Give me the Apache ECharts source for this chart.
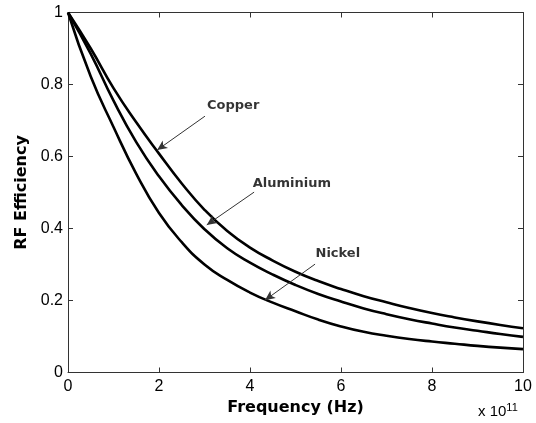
<!DOCTYPE html>
<html><head><meta charset="utf-8">
<script src="https://cdn.jsdelivr.net/npm/echarts@6/dist/echarts.min.js"></script>
<style>html,body{margin:0;padding:0;background:#fff}#c{width:536px;height:423px}</style>
</head><body><div id="c"></div>
<script>
var freq = [0,0.5,1,1.5,2,2.5,3,3.5,4,4.5,5,5.5,6,6.5,7,7.5,8,8.5,9,9.5,10];
var copper =    [1,0.9,0.79,0.695,0.608,0.525,0.452,0.393,0.347,0.311,0.28,0.254,0.232,0.212,0.195,0.179,0.165,0.153,0.142,0.132,0.123];
var aluminium = [1,0.885,0.755,0.64,0.545,0.465,0.398,0.345,0.305,0.272,0.243,0.218,0.197,0.178,0.162,0.148,0.136,0.125,0.116,0.107,0.099];
var nickel =    [1,0.822,0.682,0.552,0.443,0.362,0.3,0.257,0.222,0.194,0.17,0.147,0.128,0.113,0.102,0.093,0.086,0.08,0.074,0.069,0.065];
var xTicks = [0,2,4,6,8,10];
var yTicks = [0,0.2,0.4,0.6,0.8,1];
var labelNames = ['Copper','Aluminium','Nickel'];
var labelPos = [[3.63,0.74],[4.92,0.526],[5.93,0.329]];
var arrowFrom = [[3.01,0.712],[4.09,0.501],[5.43,0.301]];
var arrowTo = [[1.96,0.618],[3.05,0.41],[4.33,0.201]];

function pairs(xs, ys){ return xs.map(function(x,i){return [x, ys[i]];}); }
var font = 'Liberation Sans, Arial, sans-serif';
var boldFont = 'DejaVu Sans, Verdana, sans-serif';
var chart = echarts.init(document.getElementById('c'), null, {renderer:'canvas'});
var axisCommon = {
  axisLine:{show:true, onZero:false, lineStyle:{color:'#333', width:1}},
  axisTick:{show:true, inside:true, length:5, lineStyle:{color:'#333'}},
  splitLine:{show:false}
};
var curveStyle = {color:'#000', width:2.6};
function curve(name, ys){
  return {type:'line', name:name, data:pairs(freq, ys), smooth:0.5, showSymbol:false, lineStyle:curveStyle, silent:true, z:3};
}
var arrows = {
  type:'line', data:[], silent:true,
  markLine:{
    silent:true, symbol:['none','arrow'], symbolSize:[7,10],
    lineStyle:{color:'#333', width:1, type:'solid'}, label:{show:false},
    data: arrowFrom.map(function(a,i){ return [{coord:a},{coord:arrowTo[i]}]; })
  }
};
var labels = {
  type:'scatter', symbolSize:0, silent:true,
  data: labelPos.map(function(p,i){ return {value:p, name:labelNames[i]}; }),
  label:{show:true, position:'inside', formatter:'{b}', color:'#000', fontFamily:boldFont, fontWeight:'bold', fontSize:13}
};
chart.setOption({
  animation:false,
  grid:{left:68, right:13, top:12.5, bottom:50.5},
  xAxis:[
    Object.assign({type:'value', min:0, max:10, interval:2, position:'bottom',
      name:'Frequency (Hz)', nameLocation:'middle', nameGap:26,
      nameTextStyle:{fontFamily:boldFont, fontWeight:'bold', fontSize:16, color:'#000'},
      axisLabel:{fontFamily:font, fontSize:16, color:'#000', margin:6}}, axisCommon),
    Object.assign({type:'value', min:0, max:10, interval:2, position:'top', axisLabel:{show:false}}, axisCommon)
  ],
  yAxis:[
    Object.assign({type:'value', min:0, max:1, interval:0.2, position:'left',
      name:'RF Efficiency', nameLocation:'middle', nameGap:36,
      nameTextStyle:{fontFamily:boldFont, fontWeight:'bold', fontSize:16, color:'#000'},
      axisLabel:{fontFamily:font, fontSize:16, color:'#000', margin:5}}, axisCommon),
    Object.assign({type:'value', min:0, max:1, interval:0.2, position:'right', axisLabel:{show:false}}, axisCommon)
  ],
  graphic:[{
    type:'text', left:478, top:402,
    style:{text:'x 10{s|11}', rich:{s:{fontSize:11, fontFamily:font, verticalAlign:'top', padding:[0,0,8,0]}},
      font:'15px ' + font, fill:'#000'}
  }],
  series:[curve('Copper', copper), curve('Aluminium', aluminium), curve('Nickel', nickel), arrows, labels]
});
</script></body></html>
